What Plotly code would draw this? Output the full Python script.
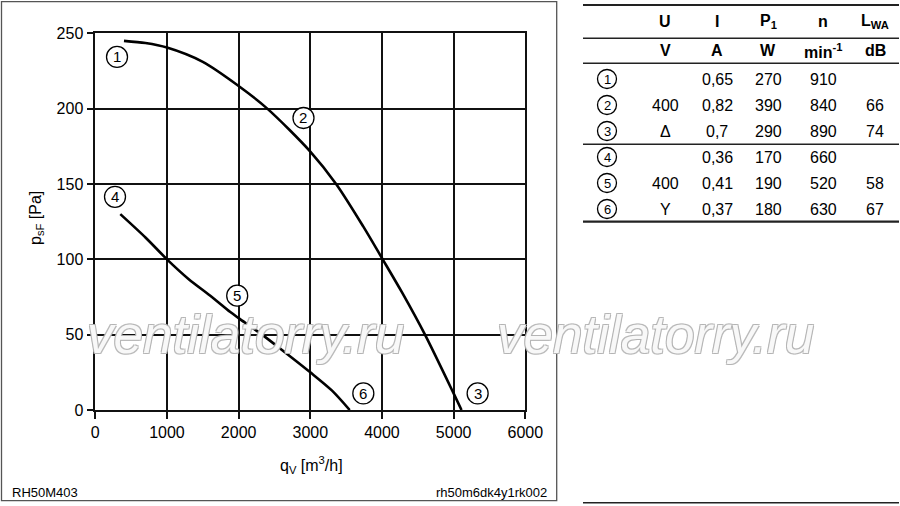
import plotly.graph_objects as go

W, H = 900, 506

# ---- data ----
curve_a_x = [400, 700, 1000, 1500, 2000, 2400, 3000, 3360, 3736, 4010, 4280, 4600, 5000, 5110]
curve_a_y = [245, 243.5, 240.5, 231, 215, 200, 171.5, 150, 122, 100, 78, 50, 11, 0]

curve_b_x = [349, 700, 1000, 1300, 1600, 1884, 2000, 2326, 2600, 3000, 3300, 3550]
curve_b_y = [130, 114.5, 100, 87, 76, 65, 61, 50, 40, 25, 13, 0]

label_text = ["1", "2", "3", "4", "5", "6"]
label_x = [303, 2905, 5335, 275, 1980, 3740]
label_y = [234.3, 193.8, 11, 141.5, 75.9, 11]

x_ticks = [0, 1000, 2000, 3000, 4000, 5000, 6000]
y_ticks = [0, 50, 100, 150, 200, 250]

table_head1 = ["U", "I", "P<sub>1</sub>", "n", "L<sub>WA</sub>"]
table_head2 = ["V", "A", "W", "min<sup>-1</sup>", "dB"]
table_ids = ["1", "2", "3", "4", "5", "6"]
col_U = ["", "400", "Δ", "", "400", "Y"]
col_I = ["0,65", "0,82", "0,7", "0,36", "0,41", "0,37"]
col_P = ["270", "390", "290", "170", "190", "180"]
col_n = ["910", "840", "890", "660", "520", "630"]
col_L = ["", "66", "74", "", "58", "67"]

FONT = "Liberation Sans"


def px(x):
    return x / W


def py(y):
    return 1 - y / H


fig = go.Figure()
fig.add_trace(go.Scatter(x=curve_a_x, y=curve_a_y, mode="lines",
                         line=dict(color="black", width=2.6, shape="spline", smoothing=0.8),
                         hoverinfo="skip", showlegend=False))
fig.add_trace(go.Scatter(x=curve_b_x, y=curve_b_y, mode="lines",
                         line=dict(color="black", width=2.6, shape="spline", smoothing=0.8),
                         hoverinfo="skip", showlegend=False))

shapes = []
annotations = []

# circled labels on chart
for t, xv, yv in zip(label_text, label_x, label_y):
    shapes.append(dict(type="circle", xref="x", yref="y", xsizemode="pixel", ysizemode="pixel",
                       xanchor=xv, yanchor=yv, x0=-10.5, x1=10.5, y0=-10.5, y1=10.5,
                       fillcolor="white", line=dict(color="black", width=1.3), layer="above"))
    annotations.append(dict(x=xv, y=yv, xref="x", yref="y", text=t, showarrow=False,
                            font=dict(family=FONT, size=15, color="black"),
                            xanchor="center", yanchor="middle"))

# left panel border
shapes.append(dict(type="rect", xref="paper", yref="paper",
                   x0=px(1.5), x1=px(556.7), y0=py(500.7), y1=py(1.7),
                   line=dict(color="#555", width=1.3), layer="below"))

# table lines
for yl, lw in [(5, 2.2), (38.3, 1.5), (63.3, 1.5), (144.3, 1.5), (221.7, 2.2), (502.7, 1.5)]:
    shapes.append(dict(type="line", xref="paper", yref="paper",
                       x0=px(583), x1=px(899), y0=py(yl), y1=py(yl),
                       line=dict(color="#222", width=lw)))

col_x = [665, 717, 768, 823, 875]
for cx, h1, h2 in zip(col_x, table_head1, table_head2):
    annotations.append(dict(x=px(cx), y=py(22), xref="paper", yref="paper", text="<b>%s</b>" % h1,
                            showarrow=False, font=dict(family=FONT, size=16, color="black"),
                            xanchor="center", yanchor="middle"))
    annotations.append(dict(x=px(cx), y=py(51), xref="paper", yref="paper", text="<b>%s</b>" % h2,
                            showarrow=False, font=dict(family=FONT, size=16, color="black"),
                            xanchor="center", yanchor="middle"))

row_y = [79, 105, 131, 157, 183, 209]
cols = [col_U, col_I, col_P, col_n, col_L]
for i, ry in enumerate(row_y):
    shapes.append(dict(type="circle", xref="paper", yref="paper", xsizemode="pixel", ysizemode="pixel",
                       xanchor=px(607), yanchor=py(ry), x0=-9.5, x1=9.5, y0=-9.5, y1=9.5,
                       fillcolor="white", line=dict(color="black", width=1.3)))
    annotations.append(dict(x=px(607), y=py(ry), xref="paper", yref="paper", text=table_ids[i],
                            showarrow=False, font=dict(family=FONT, size=13, color="black"),
                            xanchor="center", yanchor="middle"))
    for cx, col in zip(col_x, cols):
        if col[i]:
            annotations.append(dict(x=px(cx), y=py(ry), xref="paper", yref="paper", text=col[i],
                                    showarrow=False, font=dict(family=FONT, size=16, color="black"),
                                    xanchor="center", yanchor="middle"))

# footer texts
annotations.append(dict(x=px(10), y=py(492), xref="paper", yref="paper", text="RH50M403",
                        showarrow=False, font=dict(family=FONT, size=13, color="black"),
                        xanchor="left", yanchor="middle"))
annotations.append(dict(x=px(549), y=py(492), xref="paper", yref="paper", text="rh50m6dk4y1rk002",
                        showarrow=False, font=dict(family=FONT, size=13, color="black"),
                        xanchor="right", yanchor="middle"))

# axis titles
annotations.append(dict(x=px(311), y=py(465), xref="paper", yref="paper",
                        text="q<sub>V</sub> [m<sup>3</sup>/h]", showarrow=False,
                        font=dict(family=FONT, size=16, color="black"),
                        xanchor="center", yanchor="middle"))
annotations.append(dict(x=px(37), y=py(218), xref="paper", yref="paper",
                        text="p<sub>sF</sub> [Pa]", showarrow=False, textangle=-90,
                        font=dict(family=FONT, size=16, color="black"),
                        xanchor="center", yanchor="middle"))

# watermark
wm_shadow = "1px 1px 0 #b4b4b4, -1px -1px 0 #b4b4b4, 1px -1px 0 #b4b4b4, -1px 1px 0 #b4b4b4"
for cx in [246, 655]:
    annotations.append(dict(x=px(cx), y=py(334), xref="paper", yref="paper", text="ventilatorry.ru",
                            showarrow=False,
                            font=dict(family=FONT, size=53, color="rgba(255,255,255,0.9)",
                                      style="italic", shadow=wm_shadow),
                            xanchor="center", yanchor="middle"))

axis_common = dict(showgrid=True, gridcolor="#111", gridwidth=1.6, zeroline=False,
                   showline=True, linecolor="#111", linewidth=1.6, mirror=True,
                   ticks="outside", ticklen=7, tickwidth=1.6, tickcolor="#111",
                   automargin=False,
                   tickfont=dict(family=FONT, size=16, color="black"))

fig.update_layout(
    width=W, height=H,
    margin=dict(l=0, r=0, t=0, b=0, pad=0),
    paper_bgcolor="white", plot_bgcolor="white",
    xaxis=dict(range=[0, 6000], domain=[px(95.3), px(525.3)], tickvals=x_ticks, **axis_common),
    yaxis=dict(range=[0, 250], domain=[py(410), py(33.3)], tickvals=y_ticks, **axis_common),
    shapes=shapes, annotations=annotations, showlegend=False,
)

fig.write_html("out.html", config={"displayModeBar": False},
               post_script="document.body.style.margin='0';document.documentElement.style.overflow='hidden';")
